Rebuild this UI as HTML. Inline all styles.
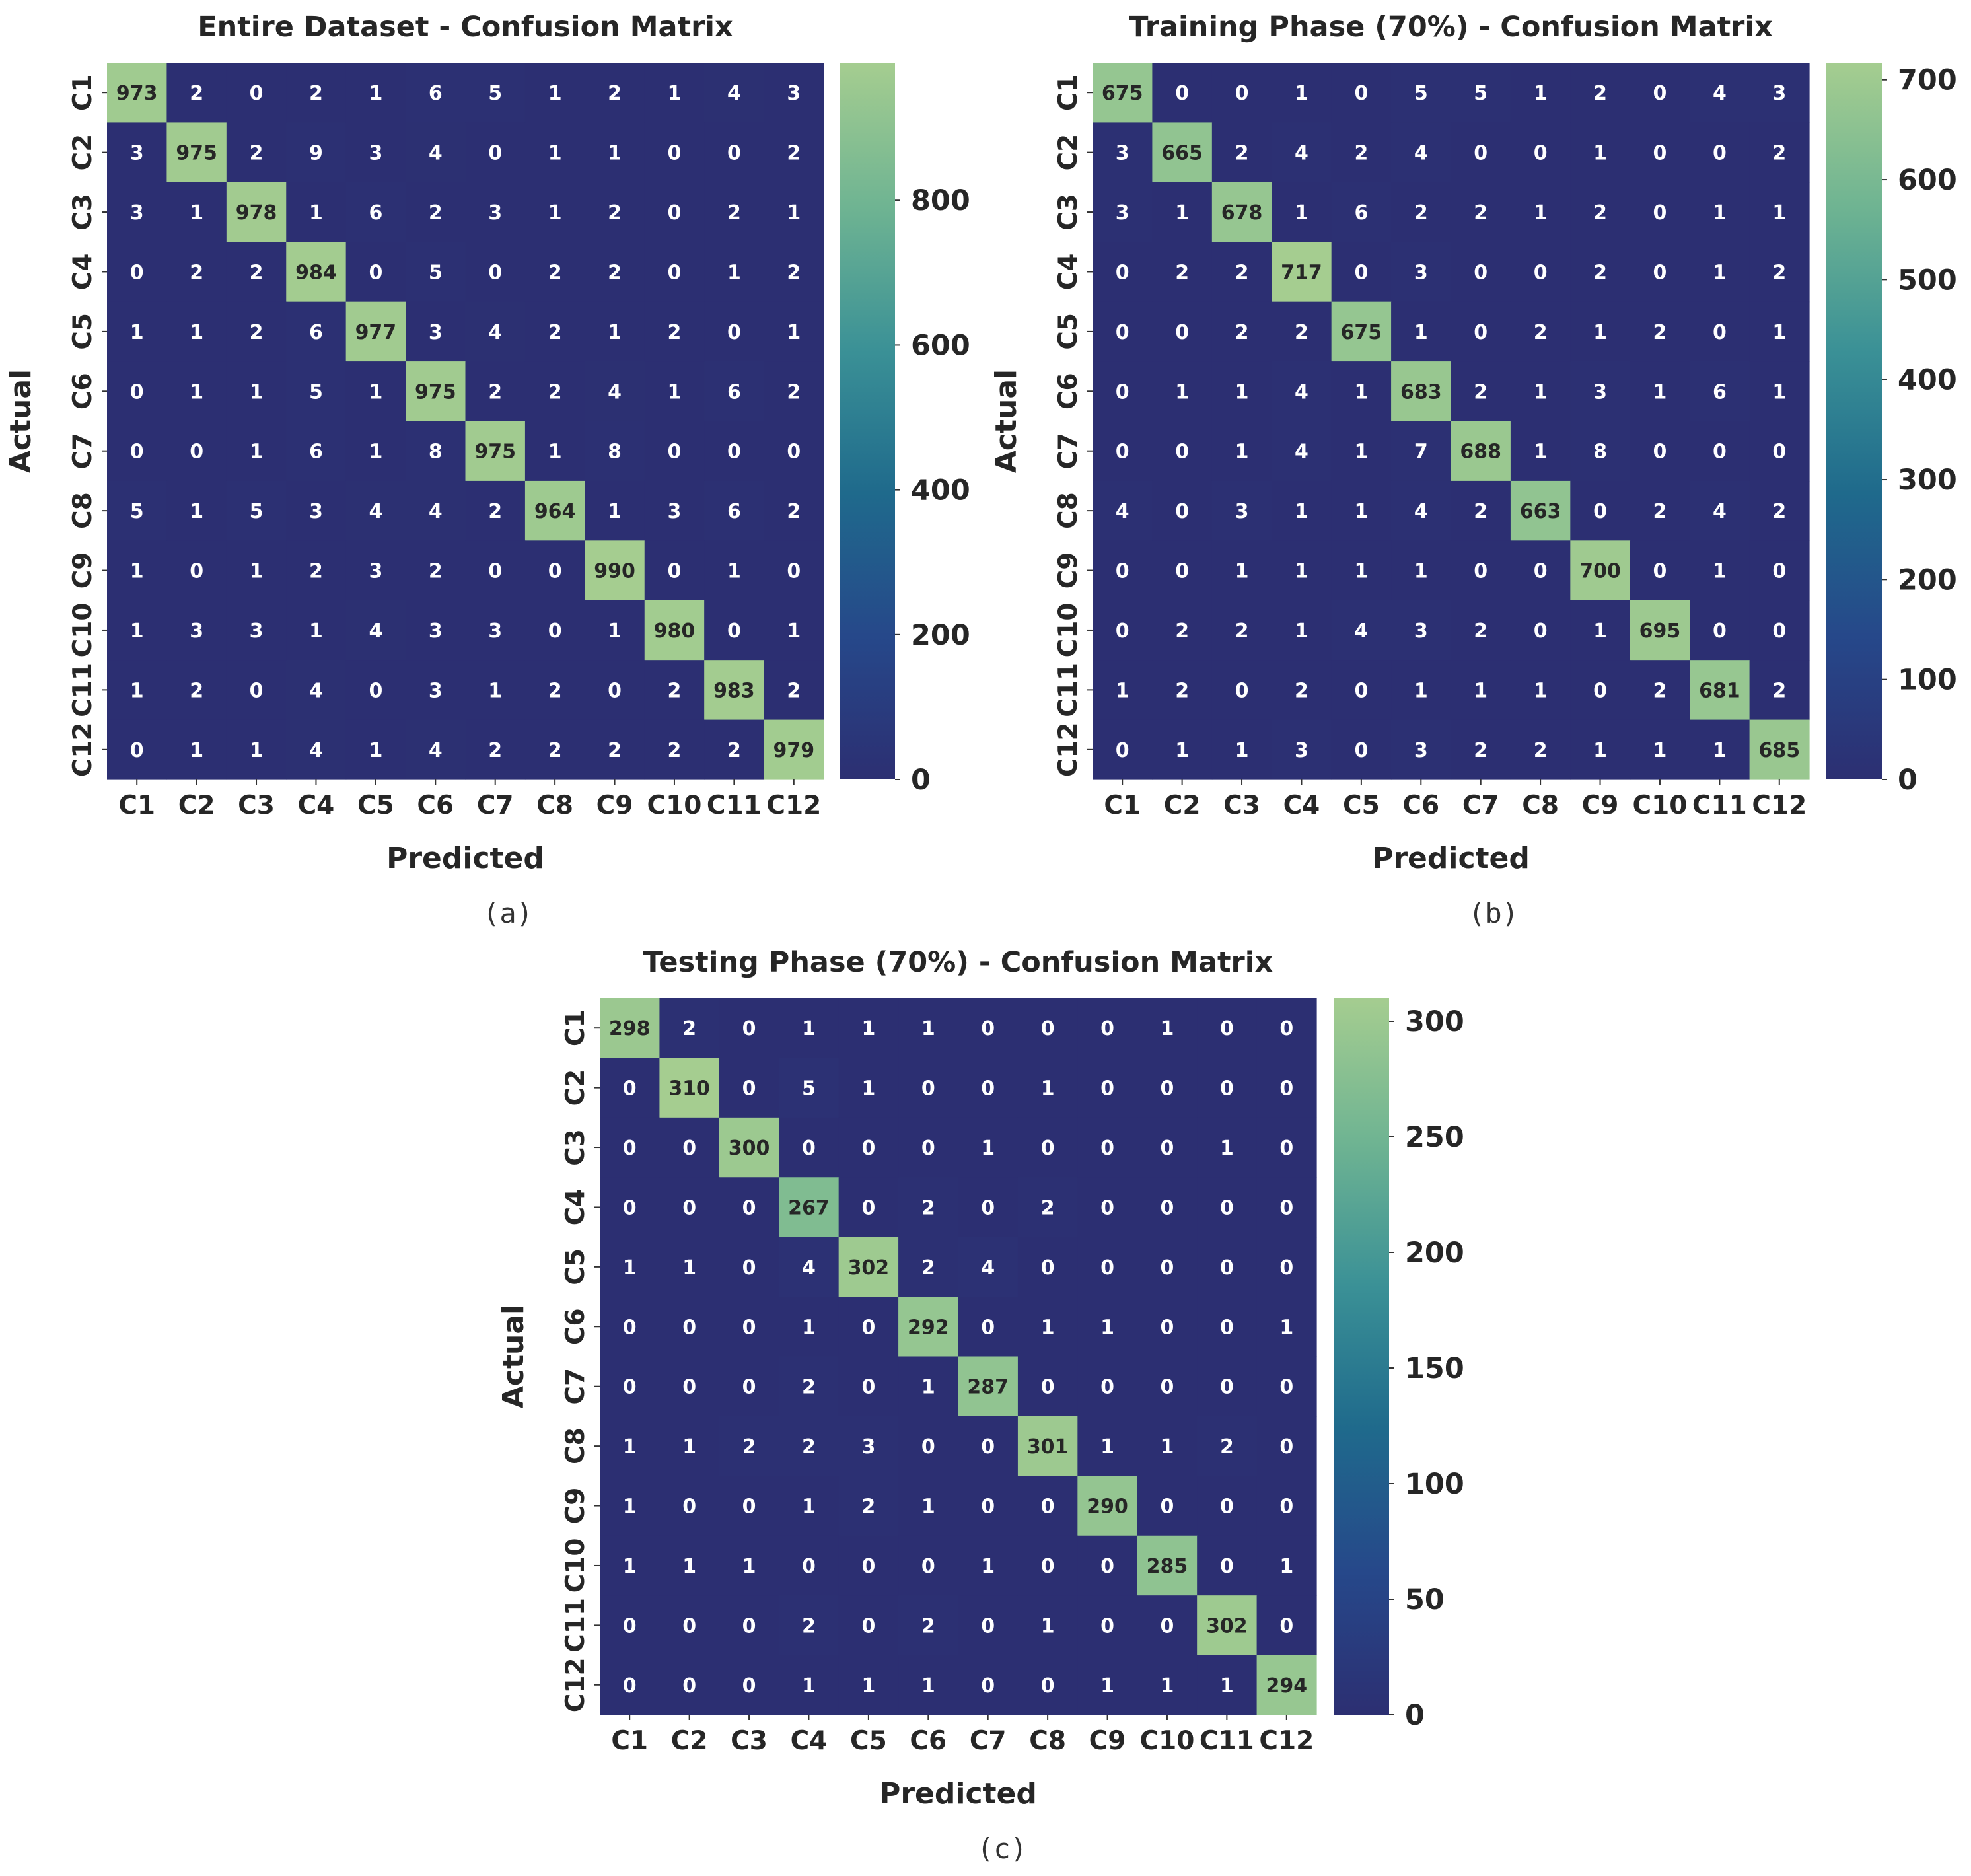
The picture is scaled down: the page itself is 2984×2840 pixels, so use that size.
<!DOCTYPE html>
<html><head><meta charset="utf-8"><style>
html,body{margin:0;padding:0;background:#fff;}
svg{display:block;font-family:"DejaVu Sans","Liberation Sans",sans-serif;}
</style></head><body>
<svg id="fig" width="2984" height="2840" viewBox="0 0 2984 2840" xmlns="http://www.w3.org/2000/svg">
<defs>
<linearGradient id="crest" x1="0" y1="1" x2="0" y2="0">
<stop offset="0" stop-color="#2c2f72"/>
<stop offset="0.2" stop-color="#26488a"/>
<stop offset="0.4" stop-color="#1f6a8c"/>
<stop offset="0.6" stop-color="#3b9196"/>
<stop offset="0.8" stop-color="#6fb492"/>
<stop offset="1" stop-color="#a5cd90"/>
</linearGradient>
</defs>
</svg>
<script>
const classes = ["C1","C2","C3","C4","C5","C6","C7","C8","C9","C10","C11","C12"];
const matrixA = [
[973,2,0,2,1,6,5,1,2,1,4,3],
[3,975,2,9,3,4,0,1,1,0,0,2],
[3,1,978,1,6,2,3,1,2,0,2,1],
[0,2,2,984,0,5,0,2,2,0,1,2],
[1,1,2,6,977,3,4,2,1,2,0,1],
[0,1,1,5,1,975,2,2,4,1,6,2],
[0,0,1,6,1,8,975,1,8,0,0,0],
[5,1,5,3,4,4,2,964,1,3,6,2],
[1,0,1,2,3,2,0,0,990,0,1,0],
[1,3,3,1,4,3,3,0,1,980,0,1],
[1,2,0,4,0,3,1,2,0,2,983,2],
[0,1,1,4,1,4,2,2,2,2,2,979]];
const matrixB = [
[675,0,0,1,0,5,5,1,2,0,4,3],
[3,665,2,4,2,4,0,0,1,0,0,2],
[3,1,678,1,6,2,2,1,2,0,1,1],
[0,2,2,717,0,3,0,0,2,0,1,2],
[0,0,2,2,675,1,0,2,1,2,0,1],
[0,1,1,4,1,683,2,1,3,1,6,1],
[0,0,1,4,1,7,688,1,8,0,0,0],
[4,0,3,1,1,4,2,663,0,2,4,2],
[0,0,1,1,1,1,0,0,700,0,1,0],
[0,2,2,1,4,3,2,0,1,695,0,0],
[1,2,0,2,0,1,1,1,0,2,681,2],
[0,1,1,3,0,3,2,2,1,1,1,685]];
const matrixC = [
[298,2,0,1,1,1,0,0,0,1,0,0],
[0,310,0,5,1,0,0,1,0,0,0,0],
[0,0,300,0,0,0,1,0,0,0,1,0],
[0,0,0,267,0,2,0,2,0,0,0,0],
[1,1,0,4,302,2,4,0,0,0,0,0],
[0,0,0,1,0,292,0,1,1,0,0,1],
[0,0,0,2,0,1,287,0,0,0,0,0],
[1,1,2,2,3,0,0,301,1,1,2,0],
[1,0,0,1,2,1,0,0,290,0,0,0],
[1,1,1,0,0,0,1,0,0,285,0,1],
[0,0,0,2,0,2,0,1,0,0,302,0],
[0,0,0,1,1,1,0,0,1,1,1,294]];
const ticksA = [0,200,400,600,800];
const ticksB = [0,100,200,300,400,500,600,700];
const ticksC = [0,50,100,150,200,250,300];
const titles = ["Entire Dataset - Confusion Matrix","Training Phase (70%) - Confusion Matrix","Testing Phase (70%) -  Confusion Matrix"];
const captions = ["(a)","(b)","(c)"];

const NS="http://www.w3.org/2000/svg";
const svg=document.getElementById('fig');
const stops=[[0,[44,47,114]],[0.2,[38,72,138]],[0.4,[31,106,140]],[0.6,[59,145,150]],[0.8,[111,180,146]],[1,[165,205,144]]];
function cmap(t){t=Math.max(0,Math.min(1,t));for(let i=1;i<stops.length;i++){if(t<=stops[i][0]){const a=stops[i-1],b=stops[i];const f=(t-a[0])/(b[0]-a[0]);const c=a[1].map((v,k)=>Math.round(v+(b[1][k]-v)*f));return c;}}return stops[stops.length-1][1];}
function el(tag,attrs,parent){const e=document.createElementNS(NS,tag);for(const k in attrs)e.setAttribute(k,attrs[k]);(parent||svg).appendChild(e);return e;}

function drawChart(key,m,ticks,title,caption,L){
  const g=el('g',{});
  
  
  const n=classes.length, size=L.size, cs=size/n;
  let vmax=0; m.forEach(r=>r.forEach(v=>{if(v>vmax)vmax=v;}));
  const cx=x=>L.x+x*cs, cy=y=>L.y+y*cs;
  const t=el('text',{x:L.x+size/2,y:L.y-40,'text-anchor':'middle','font-size':43,'font-weight':'bold',fill:'#262626'},g);
  t.textContent=title;
  
  
  for(let i=0;i<n;i++)for(let j=0;j<n;j++){
    const v=m[i][j]; const c=cmap(v/vmax);
    const r=el('rect',{x:cx(j),y:cy(i),width:cs+0.6,height:cs+0.6,fill:'rgb('+c.join(',')+')'},g);
    
    
    const lum=(0.299*c[0]+0.587*c[1]+0.114*c[2]);
    const tx=el('text',{x:cx(j)+cs/2,y:cy(i)+cs/2+11,'text-anchor':'middle','font-size':30,'font-weight':'bold',fill:lum>140?'#262626':'#ffffff'},g);
    tx.textContent=v;
    
    
  }
  for(let i=0;i<n;i++){
    el('line',{x1:cx(i)+cs/2,x2:cx(i)+cs/2,y1:L.y+size,y2:L.y+size+8,stroke:'#333','stroke-width':2},g);
    const xt=el('text',{x:cx(i)+cs/2,y:L.y+size+52,'text-anchor':'middle','font-size':39,'font-weight':'bold',fill:'#262626'},g);
    xt.textContent=classes[i];
    
    
    el('line',{x1:L.x-8,x2:L.x,y1:cy(i)+cs/2,y2:cy(i)+cs/2,stroke:'#333','stroke-width':2},g);
    const ytx=L.x-24, yty=cy(i)+cs/2;
    const yt=el('text',{x:ytx,y:yty,'text-anchor':'middle','font-size':39,'font-weight':'bold',fill:'#262626',transform:'rotate(-90 '+ytx+' '+yty+')'},g);
    yt.textContent=classes[i];
    
    
  }
  const xl=el('text',{x:L.x+size/2,y:L.y+size+134,'text-anchor':'middle','font-size':44,'font-weight':'bold',fill:'#262626'},g);
  xl.textContent='Predicted';
  
  
  const ylx=L.ylx, yly=L.y+size/2;
  const yl=el('text',{x:ylx,y:yly,'text-anchor':'middle','font-size':44,'font-weight':'bold',fill:'#262626',transform:'rotate(-90 '+ylx+' '+yly+')'},g);
  yl.textContent='Actual';
  
  
  const cb=el('rect',{x:L.cbx,y:L.y,width:84,height:size,fill:'url(#crest)'},g);
  
  
  ticks.forEach(tv=>{
    const yy=L.y+size-tv/vmax*size;
    el('line',{x1:L.cbx+84,x2:L.cbx+92,y1:yy,y2:yy,stroke:'#333','stroke-width':2},g);
    const lt=el('text',{x:L.cbx+108,y:yy+15,'font-size':43,'font-weight':'bold',fill:'#262626'},g);
    lt.textContent=tv;
    
    
  });
  const cap=el('text',{x:L.capx,y:L.y+size+217,'text-anchor':'middle','font-size':42,fill:'#333','font-family':'DejaVu Sans Mono, Liberation Mono, monospace'},g);
  cap.textContent=caption;
  
  
}
drawChart('a',matrixA,ticksA,titles[0],captions[0],{x:162,y:95,size:1085,cbx:1271,ylx:46,capx:769});
drawChart('b',matrixB,ticksB,titles[1],captions[1],{x:1654,y:95,size:1085,cbx:2765,ylx:1538,capx:2261});
drawChart('c',matrixC,ticksC,titles[2],captions[2],{x:908,y:1511,size:1085,cbx:2019,ylx:792,capx:1517});
</script>
</body></html>
